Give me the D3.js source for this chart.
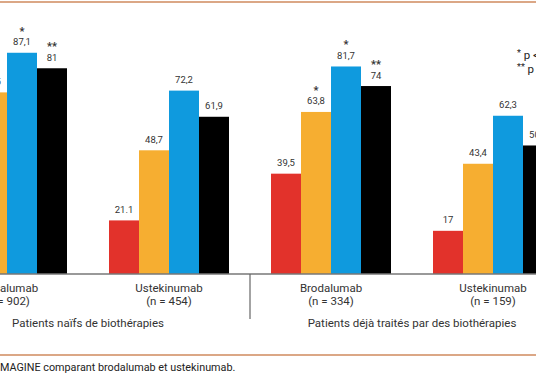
<!DOCTYPE html>
<html>
<head>
<meta charset="utf-8">
<script src="https://cdn.jsdelivr.net/npm/d3@7"></script>
<style>
  html, body { margin: 0; padding: 0; background: #fff; }
  svg { display: block; }
  text { font-family: Roboto, "Liberation Sans", Arial, sans-serif; }
</style>
</head>
<body>
<svg id="chart" width="536" height="386"></svg>
<script>
// ---- data ----
const groups = ["Brodalumab", "Ustekinumab", "Brodalumab", "Ustekinumab"];
const groupN = ["(n = 902)", "(n = 454)", "(n = 334)", "(n = 159)"];
const series = ["PASI 100", "PASI 90", "PASI 75", "sPGA 0/1"];
const seriesColors = ["#e2322b", "#f6ae31", "#0f9ade", "#000000"];
const pasi100 = [44.0, 21.1, 39.5, 17];
const pasi90 = [71.5, 48.7, 63.8, 43.4];
const pasi75 = [87.1, 72.2, 81.7, 62.3];
const spga = [81, 61.9, 74, 50.6];
const valueLabels = [
  ["44", "71,5", "87,1", "81"],
  ["21.1", "48,7", "72,2", "61,9"],
  ["39,5", "63,8", "81,7", "74"],
  ["17", "43,4", "62,3", "50,6"]
];
const signif = [
  ["", "*", "*", "**"],
  ["", "", "", ""],
  ["", "*", "*", "**"],
  ["", "", "", ""]
];
const populations = ["Patients naïfs de biothérapies", "Patients déjà traités par des biothérapies"];
const footnotes = [["*", " p < 0,001"], ["**", " p < 0,05"]];
const caption = "IMAGINE comparant brodalumab et ustekinumab.";

const values = [pasi100, pasi90, pasi75, spga];

// ---- layout ----
const svg = d3.select("#chart");
const baseY = 274;

const x0 = d3.scaleBand()
  .domain(d3.range(groups.length))
  .range([-74, 574])
  .paddingInner(42 / 162)
  .paddingOuter(21 / 162);

const x1 = d3.scaleBand()
  .domain(d3.range(series.length))
  .range([0, x0.bandwidth()])
  .padding(0);

const y = d3.scaleLinear().domain([0, 100]).range([baseY, 20]);

// top and bottom rules
const ruleColor = "#cf8a5e";
svg.append("line").attr("x1", 0).attr("x2", 536).attr("y1", 2).attr("y2", 2)
  .attr("stroke", ruleColor).attr("stroke-width", 1.6);
svg.append("line").attr("x1", 0).attr("x2", 536).attr("y1", 355).attr("y2", 355)
  .attr("stroke", ruleColor).attr("stroke-width", 1.6);

// bars
const gGroups = svg.selectAll("g.grp")
  .data(groups)
  .join("g")
  .attr("class", "grp")
  .attr("transform", (d, i) => `translate(${x0(i)},0)`);

gGroups.each(function(g, gi) {
  const sel = d3.select(this);
  series.forEach((s, si) => {
    const v = values[si][gi];
    sel.append("rect")
      .attr("x", x1(si))
      .attr("y", y(v))
      .attr("width", x1.bandwidth())
      .attr("height", baseY - y(v))
      .attr("fill", seriesColors[si]);
    sel.append("text")
      .attr("x", x1(si) + x1.bandwidth() / 2)
      .attr("y", y(v) - 7.5)
      .attr("text-anchor", "middle")
      .attr("font-size", 9.5)
      .attr("fill", "#333")
      .text(valueLabels[gi][si]);
    if (signif[gi][si]) {
      sel.append("text")
        .attr("x", x1(si) + x1.bandwidth() / 2)
        .attr("y", y(v) - 7.5 - 10.5)
        .attr("text-anchor", "middle")
        .attr("font-size", 11)
        .attr("font-weight", 700)
        .attr("fill", "#333")
        .text(signif[gi][si]);
    }
  });
});

// axis baseline
const xAxis = d3.axisBottom(x0).tickSize(0).tickFormat(() => "");
svg.append("g").attr("transform", `translate(0,${baseY})`).call(xAxis)
  .call(g => g.select(".domain").attr("stroke", "#777").attr("stroke-width", 1.6).attr("d", "M0,0H536"));

// divider between populations
svg.append("line")
  .attr("x1", (x0(1) + x0.bandwidth() + x0(2)) / 2)
  .attr("x2", (x0(1) + x0.bandwidth() + x0(2)) / 2)
  .attr("y1", baseY).attr("y2", 319)
  .attr("stroke", "#666").attr("stroke-width", 1.2);

// category labels
groups.forEach((g, i) => {
  const cx = x0(i) + x0.bandwidth() / 2;
  svg.append("text").attr("x", cx).attr("y", 292).attr("text-anchor", "middle")
    .attr("font-size", 11.5).attr("fill", "#333").text(g);
  svg.append("text").attr("x", cx).attr("y", 304.5).attr("text-anchor", "middle")
    .attr("font-size", 11.5).attr("fill", "#333").text(groupN[i]);
});

// population labels
populations.forEach((p, i) => {
  const a = x0(2 * i) + x0.bandwidth() / 2;
  const b = x0(2 * i + 1) + x0.bandwidth() / 2;
  svg.append("text").attr("x", (a + b) / 2).attr("y", 327).attr("text-anchor", "middle")
    .attr("font-size", 11.5).attr("fill", "#333").text(p);
});

// footnote legend
footnotes.forEach((f, i) => {
  const t = svg.append("text").attr("x", 517).attr("y", 59 + i * 14)
    .attr("font-size", 11.5).attr("fill", "#222");
  t.append("tspan").attr("font-size", 9).attr("dy", -3).text(f[0]);
  t.append("tspan").attr("dy", 3).text(f[1]);
});

// caption
svg.append("text").attr("x", -3).attr("y", 371)
  .attr("font-size", 10.8).attr("fill", "#222").text(caption);
</script>
</body>
</html>
